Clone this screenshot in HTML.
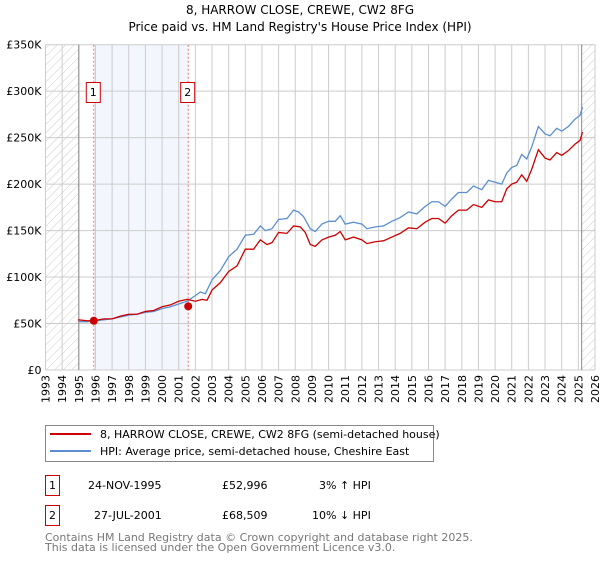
<!DOCTYPE html>
<html><head><meta charset="utf-8"><style>
body{margin:0;background:#fff}
svg text{font-family:"DejaVu Sans","Liberation Sans",sans-serif}
</style></head><body>
<svg id="c" width="600" height="560" xmlns="http://www.w3.org/2000/svg">
<defs><pattern id="h" width="6" height="6" patternUnits="userSpaceOnUse" patternTransform="rotate(45)"><line x1="0" y1="0" x2="0" y2="6" stroke="#ccc" stroke-width="1"/></pattern></defs>
<text x="300" y="14" text-anchor="middle" font-size="12">8, HARROW CLOSE, CREWE, CW2 8FG</text>
<text x="300" y="31" text-anchor="middle" font-size="12">Price paid vs. HM Land Registry's House Price Index (HPI)</text>
<g id="plot"></g>
<g>
<rect x="45.5" y="425.5" width="388" height="36" fill="#fff" stroke="#888"/>
<line x1="50" y1="434" x2="91" y2="434" stroke="#cc0000" stroke-width="2"/>
<text x="100" y="438" font-size="11">8, HARROW CLOSE, CREWE, CW2 8FG (semi-detached house)</text>
<line x1="50" y1="451" x2="91" y2="451" stroke="#5b8fd0" stroke-width="2"/>
<text x="100" y="455" font-size="11">HPI: Average price, semi-detached house, Cheshire East</text>
</g>
<g font-size="11">
<rect x="45.5" y="475.5" width="14" height="20" fill="#fff" stroke="#cc0000"/>
<text x="52.5" y="489" text-anchor="middle">1</text>
<text x="88" y="489">24-NOV-1995</text><text x="222" y="489">£52,996</text><text x="319" y="489">3% ↑ HPI</text>
<rect x="45.5" y="505.5" width="14" height="20" fill="#fff" stroke="#cc0000"/>
<text x="52.5" y="519" text-anchor="middle">2</text>
<text x="94" y="519">27-JUL-2001</text><text x="222" y="519">£68,509</text><text x="312" y="519">10% ↓ HPI</text>
</g>
<text x="45" y="541" font-size="11" fill="#777">Contains HM Land Registry data © Crown copyright and database right 2025.</text>
<text x="45" y="551" font-size="11" fill="#777">This data is licensed under the Open Government Licence v3.0.</text>
</svg>
<script>
const hpiYears=[1995.0,1995.5,1996,1996.5,1997,1997.5,1998,1998.5,1999,1999.5,2000,2000.5,2001,2001.5,2002,2002.3,2002.6,2003,2003.5,2004,2004.5,2005,2005.5,2005.9,2006.2,2006.6,2007,2007.5,2007.9,2008.2,2008.5,2008.9,2009.2,2009.6,2010,2010.4,2010.7,2011,2011.5,2012,2012.3,2012.8,2013.3,2013.8,2014.3,2014.8,2015.3,2015.8,2016.2,2016.6,2017,2017.4,2017.8,2018.3,2018.7,2019.2,2019.6,2020,2020.4,2020.7,2021,2021.3,2021.6,2021.9,2022.2,2022.6,2023,2023.3,2023.7,2024,2024.4,2024.8,2025.1,2025.25];
const hpiValues=[52,52,53,54,55,57,59,60,62,63,66,68,71,74,80,84,82,97,107,122,130,145,146,155,150,152,162,163,172,170,165,152,149,157,160,160,166,157,159,157,152,154,155,160,164,170,168,176,181,181,176,184,191,191,198,194,204,202,200,212,218,220,232,227,240,262,254,252,260,257,262,270,274,283];
const propYears=[1994.95,1995.5,1995.9,1996.5,1997,1997.5,1998,1998.5,1999,1999.5,2000,2000.5,2001,2001.5,2002,2002.4,2002.7,2003,2003.5,2004,2004.5,2005,2005.5,2005.9,2006.3,2006.6,2007,2007.5,2007.9,2008.3,2008.6,2008.9,2009.2,2009.6,2010,2010.4,2010.7,2011,2011.5,2012,2012.3,2012.8,2013.3,2013.8,2014.3,2014.8,2015.3,2015.8,2016.2,2016.6,2017,2017.4,2017.8,2018.3,2018.7,2019.2,2019.6,2020,2020.4,2020.7,2021,2021.3,2021.6,2021.9,2022.2,2022.6,2023,2023.3,2023.7,2024,2024.4,2024.8,2025.1,2025.25];
const propValues=[54,53,53,55,55,58,60,60,63,64,68,70,74,76,74,76,75,86,94,106,112,130,130,140,135,137,148,147,155,154,148,135,133,140,143,145,149,140,143,140,136,138,139,143,147,153,152,159,163,163,158,166,172,172,178,175,183,181,181,195,200,202,210,203,216,237,228,226,234,231,236,243,247,256];
const saleYears=[1995.9,2001.57];
const saleValues=[52.996,68.509];
const saleLabels=["1","2"];
const yTicks=[0,50,100,150,200,250,300,350];
const yTickLabels=["£0","£50K","£100K","£150K","£200K","£250K","£300K","£350K"];
const xStart=1993,xEnd=2026,dataStart=1995,dataEnd=2025.2;
const L=45.5,R=595,T=44.7,B=370;
const X=y=>L+(y-xStart)/(xEnd-xStart)*(R-L);
const Y=v=>B-v/350*(B-T);
const NS="http://www.w3.org/2000/svg";
const g=document.getElementById('plot');
function mk(t,a,p){const e=document.createElementNS(NS,t);for(const k in a)e.setAttribute(k,a[k]);(p||g).appendChild(e);return e;}
let e;
e=mk('rect',{x:X(saleYears[0]),y:T,width:X(saleYears[1])-X(saleYears[0]),height:B-T,fill:'#f3f6fd'});


e=mk('rect',{x:L,y:T,width:X(dataStart)-L,height:B-T,fill:'url(#h)'});


e=mk('rect',{x:X(dataEnd),y:T,width:R-X(dataEnd),height:B-T,fill:'url(#h)'});


for(let yr=xStart;yr<=xEnd;yr++){
 e=mk('line',{x1:X(yr),x2:X(yr),y1:T,y2:B,stroke:'#ccc','stroke-width':1});
 
 
 e=mk('text',{transform:`translate(${X(yr)+4},${B+5}) rotate(-90)`,'text-anchor':'end','font-size':11});
 
 
 e.textContent=yr;
}
yTicks.forEach((v,i)=>{
 e=mk('line',{x1:L,x2:R,y1:Y(v),y2:Y(v),stroke:'#ccc','stroke-width':1});
 
 
 e=mk('text',{x:L-4,y:Y(v)+4,'text-anchor':'end','font-size':11});
 
 
 e.textContent=yTickLabels[i];
});
[dataStart,dataEnd].forEach(yr=>{
 e=mk('line',{x1:X(yr),x2:X(yr),y1:T,y2:B,stroke:'#888','stroke-width':1});
 
 
});
saleYears.forEach((yr,i)=>{
 e=mk('line',{x1:X(yr),x2:X(yr),y1:T,y2:B,stroke:'#f07070','stroke-width':1,'stroke-dasharray':'2,2'});
 
 
 e=mk('rect',{x:X(yr)-7.5,y:82.5,width:14,height:20,fill:'#fff',stroke:'#cc0000'});
 
 
 e=mk('text',{x:X(yr)-0.5,y:96,'text-anchor':'middle','font-size':11});
 
 
 e.textContent=saleLabels[i];
});
e=mk('polyline',{points:hpiYears.map((y,i)=>X(y)+','+Y(hpiValues[i])).join(' '),fill:'none',stroke:'#5b8fd0','stroke-width':1.3});


e=mk('polyline',{points:propYears.map((y,i)=>X(y)+','+Y(propValues[i])).join(' '),fill:'none',stroke:'#cc0000','stroke-width':1.3});


saleYears.forEach((yr,i)=>{
 e=mk('circle',{cx:X(yr),cy:Y(saleValues[i]),r:4,fill:'#cc0000'});
 
 
});
</script>
</body></html>
